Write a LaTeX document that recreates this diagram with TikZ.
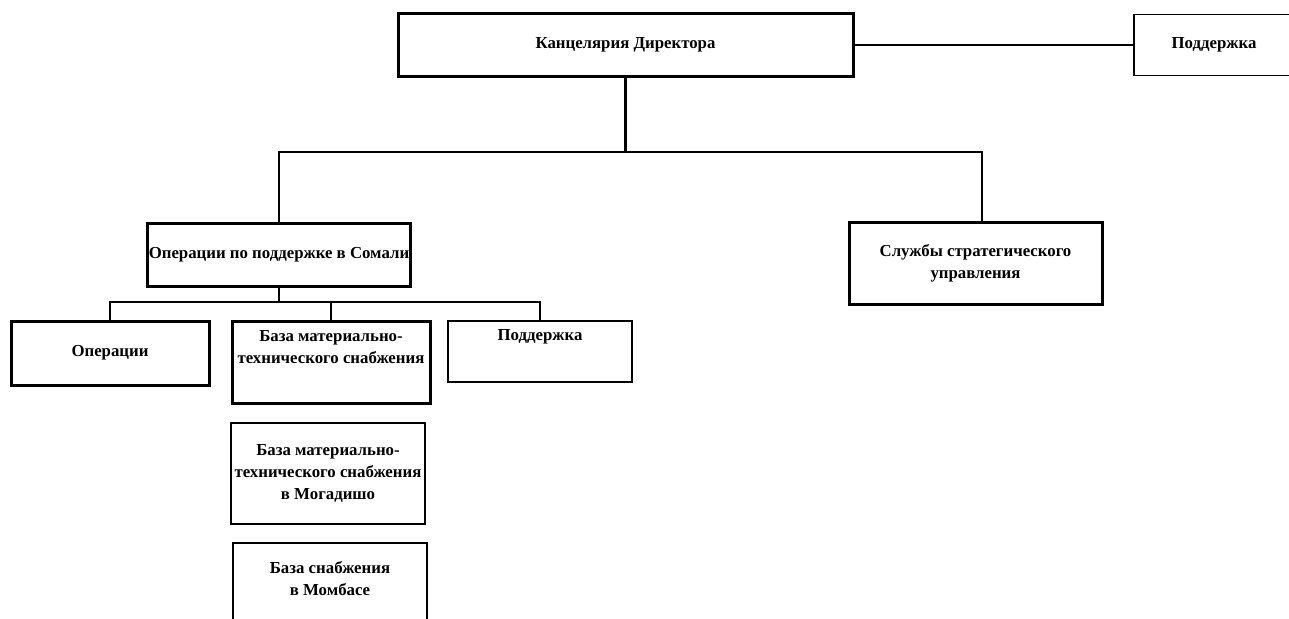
\documentclass[tikz,border=0pt]{standalone}
\usepackage{fontspec}
\setmainfont{Liberation Serif}
\usepackage{tikz}

\begin{document}
\begin{tikzpicture}[x=1pt,y=-1pt,
    font=\fontsize{16.8}{22}\selectfont\bfseries,
    thickbox/.style={draw,line width=3pt,align=center,inner sep=1pt},
    thinbox/.style={draw,line width=1.4pt,align=center,inner sep=1pt},
    link/.style={line width=2.2pt}]
            \useasboundingbox (0,0) rectangle (1289,618);
            \node[thickbox,minimum width=455,minimum height=63] (A) at (625.5,45) {Канцелярия Директора};
            \node[thinbox,minimum width=160,minimum height=61] (B) at (1214,45) {Поддержка};
            \node[thickbox,minimum width=263,minimum height=63] (C) at (279,254.5) {Операции по поддержке в Сомали};
            \node[thickbox,minimum width=253,minimum height=82] (D) at (975.5,263) {Службы стратегического\\управления};
            \node[thickbox,minimum width=198,minimum height=64] (E) at (110,353) {Операции};
            \node[thickbox,minimum width=198,minimum height=82,text depth=30] (F) at (331,362) {База материально-\\технического снабжения};
            \node[thinbox,minimum width=184,minimum height=61,text depth=33] (G) at (540,351.5) {Поддержка};
            \node[thinbox,minimum width=194,minimum height=101] (H) at (328,473.5) {База материально-\\технического снабжения\\в Могадишо};
            \node[thinbox,minimum width=194,minimum height=96,text depth=26] (I) at (330,591) {База снабжения\\в Момбасе};
            \coordinate (J) at (625.5,152);
            \coordinate (K) at (982,152);
            \coordinate (L) at (279,302);
            \draw[link] (A) -- (B);
            \draw[link] (A.south) -- (J);
            \draw[link] (C.north) |- (J) -- (K) -- (K |- D.north);
            \draw[link] (C.south) -- (L);
            \draw[link] (E.north) |- (L) -| (G.north);
            \draw[link] (F.north) -- (F.north |- L);
        \end{tikzpicture}
\end{document}
